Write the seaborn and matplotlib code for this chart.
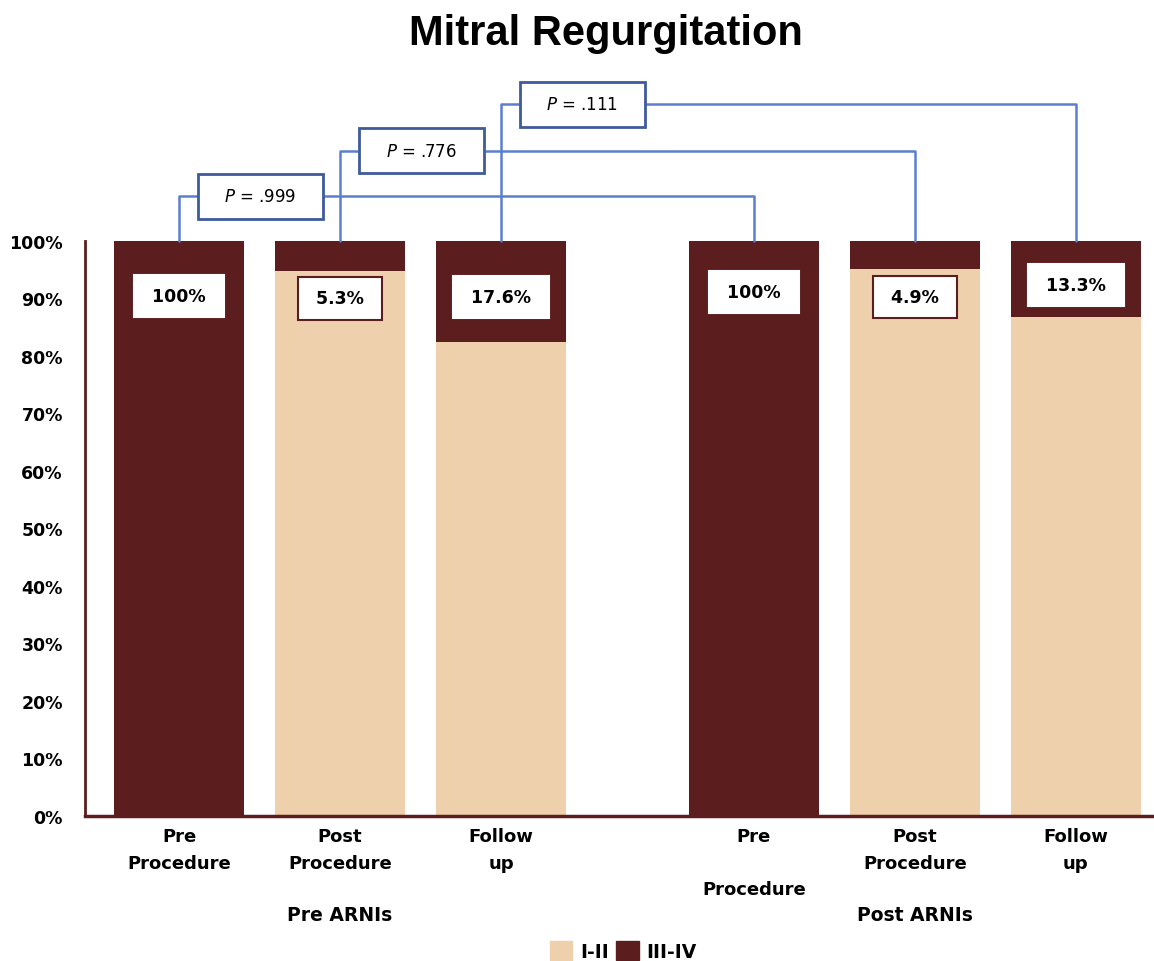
import matplotlib
matplotlib.use("Agg")
import matplotlib.pyplot as plt
from matplotlib.patches import Patch, Rectangle
import pandas as pd
import seaborn as sns

# data
categories = ['Pre\nProcedure', 'Post\nProcedure', 'Follow\nup',
              'Pre\n\nProcedure', 'Post\nProcedure', 'Follow\nup']
groups = ['Pre ARNIs', 'Post ARNIs']
severe_pct = [100, 5.3, 17.6, 100, 4.9, 13.3]      # III-IV
mild_pct = [0, 94.7, 82.4, 0, 95.1, 86.7]           # I-II
value_labels = ['100%', '5.3%', '17.6%', '100%', '4.9%', '13.3%']
comparisons = [(0, 3), (1, 4), (2, 5)]
p_values = ['.999', '.776', '.111']

# layout
positions = [0, 1, 2, 3.57, 4.57, 5.57]
label_y = [90.4, 90.0, 90.3, 91.1, 90.3, 92.3]
boxed = [False, True, False, False, True, False]
bracket_levels = [107.8, 115.7, 123.8]

dark = '#5C1D1E'
beige = '#EED1AC'
blue_line = '#5B7ECF'
blue_box = '#3F5B9B'

sns.set_style('white')
plt.rcParams['font.family'] = ['DejaVu Sans']
plt.rcParams['text.color'] = 'black'
plt.rcParams['xtick.color'] = 'black'
plt.rcParams['ytick.color'] = 'black'

df = pd.DataFrame({'pos': positions,
                   'total': [m + s for m, s in zip(mild_pct, severe_pct)],
                   'mild': mild_pct})

fig = plt.figure(figsize=(11.54, 9.62), dpi=100)
ax = fig.add_axes([85 / 1154, 145 / 962, 1069 / 1154, 575 / 962])

sns.barplot(data=df, x='pos', y='total', native_scale=True, orient='x',
            color=dark, saturation=1, width=0.81, linewidth=0, errorbar=None, ax=ax)
sns.barplot(data=df, x='pos', y='mild', native_scale=True, orient='x',
            color=beige, saturation=1, width=0.81, linewidth=0, errorbar=None, ax=ax)

ax.set_xlim(-0.584, 6.056)
ax.set_ylim(0, 100)
ax.set_xlabel('')
ax.set_ylabel('')

ax.set_yticks(range(0, 101, 10))
ax.set_yticklabels([f'{v}%' for v in range(0, 101, 10)], fontsize=12.5, fontweight='bold')
ax.set_xticks(positions)
ax.set_xticklabels(categories, fontsize=13, fontweight='bold', linespacing=1.6)
ax.tick_params(axis='y', length=0, pad=16)
ax.tick_params(axis='x', length=0, pad=8)

for side in ['top', 'right']:
    ax.spines[side].set_visible(False)
ax.spines['left'].set_color(dark)
ax.spines['left'].set_linewidth(2)
ax.spines['bottom'].set_color(dark)
ax.spines['bottom'].set_linewidth(2.5)

# value boxes
for x, y, txt, b in zip(positions, label_y, value_labels, boxed):
    ax.text(x, y, f' {txt} ', ha='center', va='center', fontsize=12.5, fontweight='bold',
            zorder=6, bbox=dict(boxstyle='square,pad=0.7', fc='white',
                                ec=dark if b else 'white', lw=1.5))

# group labels
for i, g in zip([1, 4], groups):
    ax.text(positions[i], -0.172, g, transform=ax.get_xaxis_transform(),
            ha='center', va='center', fontsize=13.5, fontweight='bold')

# significance brackets
for (a, b), lvl, p in zip(comparisons, bracket_levels, p_values):
    xa, xb = positions[a], positions[b]
    ax.plot([xa, xa, xb, xb], [100, lvl, lvl, 100], color=blue_line, lw=1.8,
            clip_on=False, zorder=4)
    ax.add_patch(Rectangle((xa + 0.115, lvl - 3.9), 0.78, 7.8, fc='white',
                           ec=blue_box, lw=2, clip_on=False, zorder=5))
    ax.text(xa + 0.505, lvl, f'$P$ = {p}', ha='center', va='center',
            fontsize=12, zorder=6)

fig.text(606 / 1154, 1 - 34 / 962, 'Mitral Regurgitation', ha='center', va='center',
         fontsize=30, fontweight='bold', family=['Liberation Sans', 'DejaVu Sans'])

handles = [Patch(color=beige), Patch(color=dark)]
fig.legend(handles, ['I-II', 'III-IV'], loc='center',
           bbox_to_anchor=(623 / 1154, 10 / 962), ncol=2, frameon=False,
           handlelength=1.2, handleheight=1.2, handletextpad=0.4, columnspacing=0.4,
           prop={'weight': 'bold', 'size': 13.5})

fig.savefig('out.png', dpi=100)
